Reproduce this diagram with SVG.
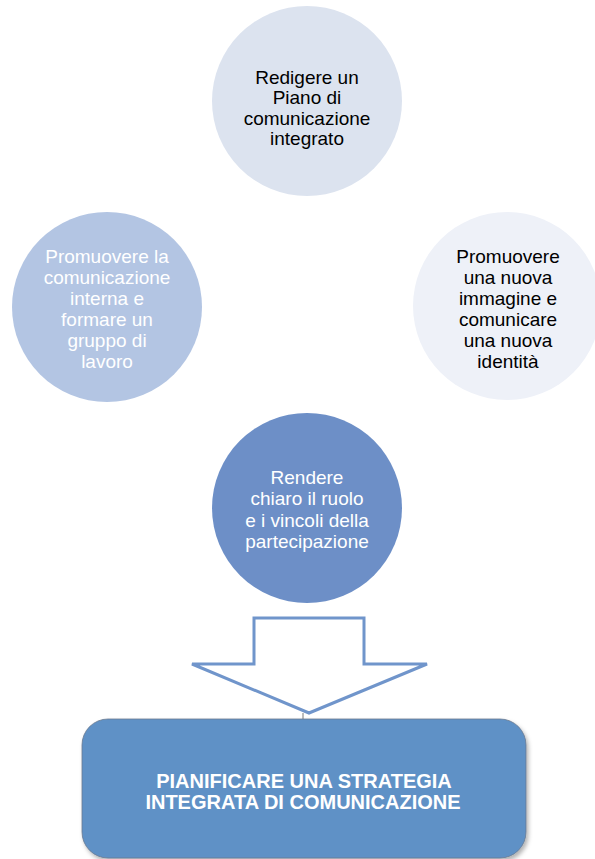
<svg xmlns="http://www.w3.org/2000/svg" width="595" height="859" viewBox="0 0 595 859">
<defs>
<style>
.t{font-family:"Liberation Sans",Arial,sans-serif;font-size:19px;text-anchor:middle}
.dark{fill:#000}
.light{fill:#fff}
.b{font-family:"Liberation Sans",Arial,sans-serif;font-size:20px;font-weight:bold;text-anchor:middle;fill:#fff}
</style>
<filter id="sh" x="-5%" y="-10%" width="115%" height="130%">
<feDropShadow dx="2" dy="3" stdDeviation="2" flood-color="#000" flood-opacity="0.3"/>
</filter>
</defs>
<rect width="595" height="859" fill="#fff"/>
<g id="node-piano">
<circle cx="307" cy="101" r="95" fill="#dce3ef"/>
<text class="t dark" x="307" y="84">Redigere un</text>
<text class="t dark" x="307" y="104">Piano di</text>
<text class="t dark" x="307" y="125">comunicazione</text>
<text class="t dark" x="307" y="145">integrato</text>
</g>
<g id="node-interna">
<circle cx="107" cy="307" r="95" fill="#b3c5e3"/>
<text class="t light" x="107" y="263">Promuovere la</text>
<text class="t light" x="107" y="284">comunicazione</text>
<text class="t light" x="107" y="305">interna e</text>
<text class="t light" x="107" y="326">formare un</text>
<text class="t light" x="107" y="347">gruppo di</text>
<text class="t light" x="107" y="368">lavoro</text>
</g>
<g id="node-immagine">
<circle cx="507" cy="306" r="94" fill="#eef1f8"/>
<text class="t dark" x="508" y="263">Promuovere</text>
<text class="t dark" x="508" y="284">una nuova</text>
<text class="t dark" x="508" y="305">immagine e</text>
<text class="t dark" x="508" y="326">comunicare</text>
<text class="t dark" x="508" y="347">una nuova</text>
<text class="t dark" x="508" y="368">identità</text>
</g>
<g id="node-ruolo">
<circle cx="307" cy="508" r="95" fill="#6d8fc7"/>
<text class="t light" x="307" y="484">Rendere</text>
<text class="t light" x="307" y="505">chiaro il ruolo</text>
<text class="t light" x="307" y="527">e i vincoli della</text>
<text class="t light" x="307" y="548">partecipazione</text>
</g>
<g id="connectors">
<polygon points="254,618 364,618 364,664 427,664 309,713 192,664 254,664" fill="#fff" stroke="#7095cb" stroke-width="3" stroke-linejoin="miter"/>
<line x1="303" y1="713" x2="303" y2="720" stroke="#555" stroke-width="0.8"/>
</g>
<g id="node-strategia">
<rect x="82" y="719" width="444" height="139" rx="26" ry="26" fill="#5f91c6" stroke="#6a7a90" stroke-width="0.8" filter="url(#sh)"/>
<text class="b" x="304" y="788">PIANIFICARE UNA STRATEGIA</text>
<text class="b" x="303" y="809">INTEGRATA DI COMUNICAZIONE</text>
</g>
</svg>
